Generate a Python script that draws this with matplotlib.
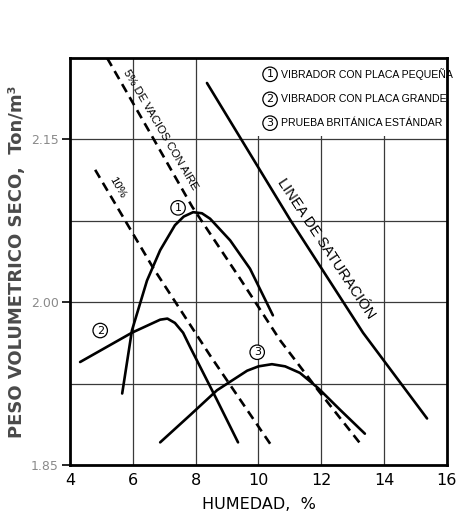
import matplotlib.pyplot as plt
from matplotlib.patches import Rectangle

# curvas de compactacion (humedad %, peso volumetrico seco Ton/m3)
humedad_1 = [5.66, 5.97, 6.45, 6.87, 7.34, 7.62, 7.92, 8.20, 8.46, 9.10, 9.73, 10.46]
peso_1 = [1.916, 1.974, 2.020, 2.048, 2.071, 2.079, 2.083, 2.082, 2.077, 2.057, 2.031, 1.988]

humedad_2 = [4.32, 5.97, 6.87, 7.10, 7.34, 7.60, 7.82, 8.68, 9.35]
peso_2 = [1.945, 1.972, 1.984, 1.985, 1.981, 1.972, 1.959, 1.910, 1.871]

humedad_3 = [6.87, 7.82, 8.68, 9.64, 10.00, 10.43, 10.85, 11.32, 11.90, 12.60, 13.39]
peso_3 = [1.871, 1.896, 1.919, 1.937, 1.941, 1.943, 1.941, 1.935, 1.921, 1.901, 1.879]

# lineas de vacios con aire y de saturacion
humedad_5 = [5.18, 6.55, 7.89, 9.41, 10.69, 11.90, 13.24]
peso_5 = [2.225, 2.156, 2.088, 2.022, 1.965, 1.919, 1.870]

humedad_10 = [4.80, 6.64, 8.46, 10.46]
peso_10 = [2.122, 2.032, 1.951, 1.866]

humedad_sat = [8.36, 11.01, 13.33, 15.37]
peso_sat = [2.202, 2.076, 1.972, 1.893]

x_ticks = [4, 6, 8, 10, 12, 14, 16]
y_ticks = [1.85, 2.00, 2.15]
y_tick_labels = ["1.85", "2.00", "2.15"]
y_grid = [1.925, 2.00, 2.075, 2.15]
x_grid = [6, 8, 10, 12, 14]

leyenda = ["VIBRADOR CON PLACA PEQUEÑA",
           "VIBRADOR CON PLACA GRANDE",
           "PRUEBA BRITÁNICA ESTÁNDAR"]

fuente = "Liberation Sans"

fig = plt.figure(figsize=(4.64, 5.18), dpi=100)
ax = fig.add_axes([0.151, 0.102, 0.812, 0.786])
ax.set_xlim(4, 16)
ax.set_ylim(1.85, 2.225)

# cuadricula
for gx in x_grid:
    ax.axvline(gx, color="#3a3a3a", lw=0.9, zorder=1)
for gy in y_grid:
    ax.axhline(gy, color="#3a3a3a", lw=0.9, zorder=1)

# fondo blanco de la leyenda, tapa la cuadricula
ax.add_patch(Rectangle((9.93, 2.153), 6.07, 0.072, facecolor="white",
                       edgecolor="none", zorder=2))

lw = 1.9
ax.plot(humedad_1, peso_1, color="black", lw=lw, solid_capstyle="round",
        solid_joinstyle="round", zorder=3)
ax.plot(humedad_2, peso_2, color="black", lw=lw, solid_capstyle="round",
        solid_joinstyle="round", zorder=3)
ax.plot(humedad_3, peso_3, color="black", lw=lw, solid_capstyle="round",
        solid_joinstyle="round", zorder=3)
ax.plot(humedad_sat, peso_sat, color="black", lw=lw, solid_capstyle="round", zorder=3)
ax.plot(humedad_5, peso_5, color="black", lw=lw, dashes=(3.5, 2.2), zorder=3)
ax.plot(humedad_10, peso_10, color="black", lw=lw, dashes=(3.5, 2.2), zorder=3)

# numeros en circulo
circulo = dict(boxstyle="circle,pad=0.2", facecolor="white", edgecolor="black", lw=0.9)
for num, (cx, cy) in zip(["1", "2", "3"], [(7.44, 2.087), (4.96, 1.974), (9.96, 1.954)]):
    ax.text(cx, cy, num, fontsize=8, ha="center", va="center", bbox=circulo, zorder=4)

# leyenda
for i, (ly, txt) in enumerate(zip([2.210, 2.187, 2.165], leyenda)):
    ax.text(10.37, ly, str(i + 1), fontsize=8, ha="center", va="center",
            bbox=circulo, zorder=4)
    ax.text(10.72, ly, txt, fontsize=7.6, family=fuente, ha="left", va="center", zorder=4)

# textos a lo largo de las lineas
ax.text(6.87, 2.159, "5% DE VACIOS CON AIRE", fontsize=8.2, family=fuente,
        rotation=-59.6, ha="center", va="center", zorder=4)
ax.text(5.50, 2.106, "10%", fontsize=8.2, family=fuente,
        rotation=-60, ha="center", va="center", zorder=4)
ax.text(12.16, 2.049, "LINEA DE SATURACIÓN", fontsize=10.5, family=fuente,
        rotation=-56.4, ha="center", va="center", zorder=4)

# ejes
for s in ax.spines.values():
    s.set_linewidth(2.0)
    s.set_zorder(5)
ax.set_xticks(x_ticks)
ax.set_xticklabels([str(t) for t in x_ticks], fontsize=11.5)
ax.tick_params(axis="x", length=0, pad=6)
ax.set_yticks(y_ticks)
ax.set_yticklabels(y_tick_labels, fontsize=9, color="#8a8a8a")
ax.tick_params(axis="y", length=6, width=1.2, pad=2)

ax.set_xlabel("HUMEDAD,  %", fontsize=11.5, labelpad=6)
ax.set_ylabel("PESO VOLUMETRICO SECO,  Ton/m³", fontsize=13, fontweight="bold",
              color="#4a4a4a", labelpad=4)

fig.savefig("out.png", dpi=100, facecolor="white")
